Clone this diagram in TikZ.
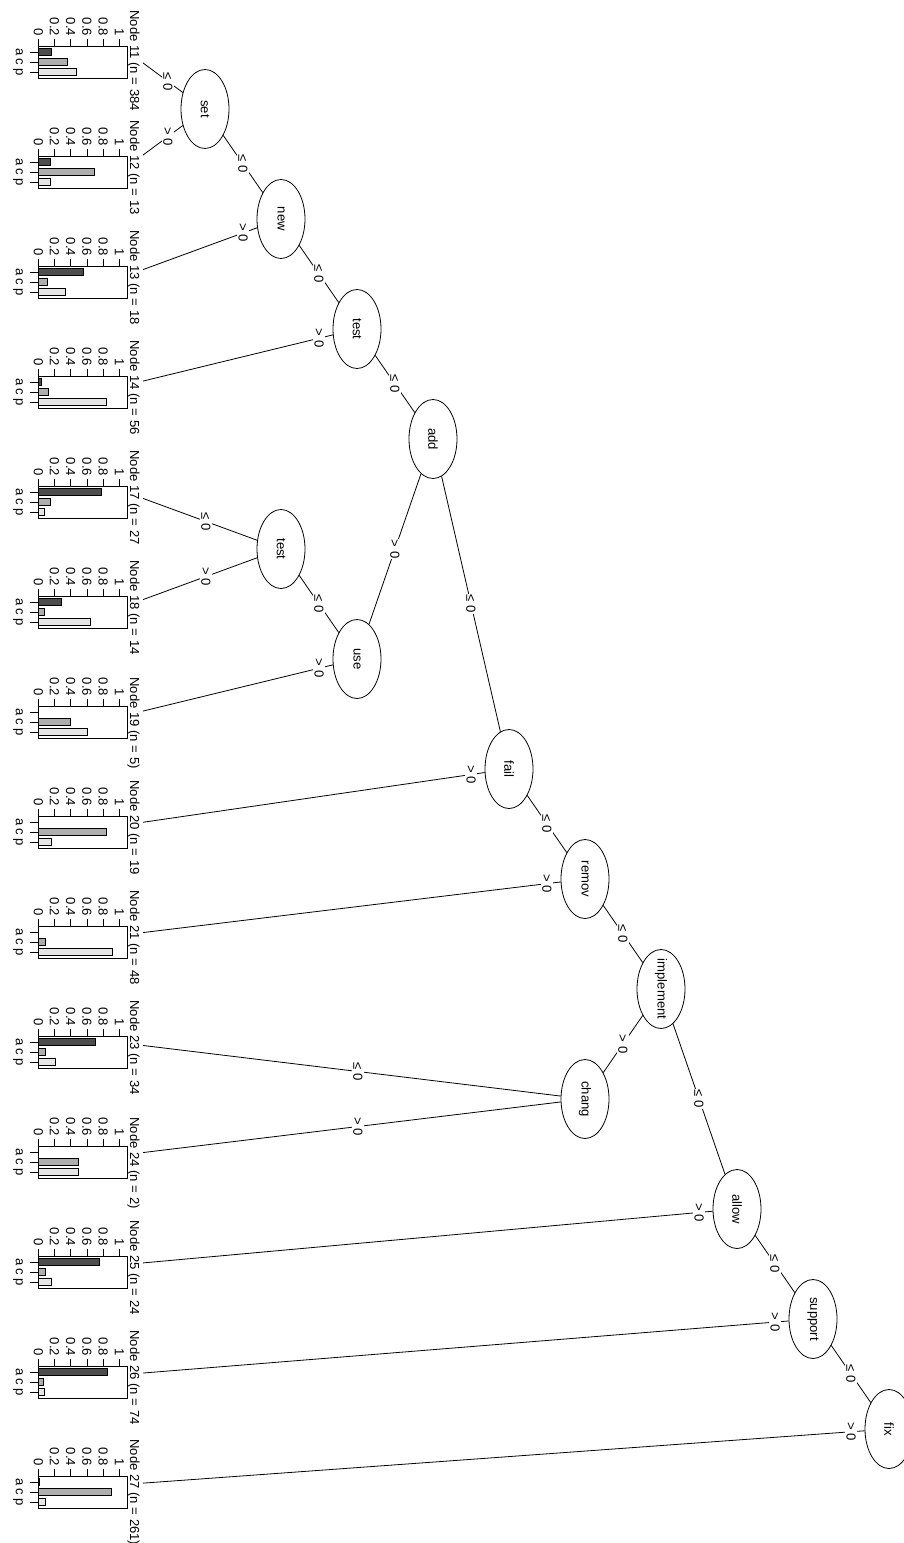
\documentclass[tikz,border=0pt]{standalone}
\usepackage{fontspec}
\setmainfont{Liberation Sans}
\usetikzlibrary{shapes.geometric,calc}

\definecolor{bara}{HTML}{4D4D4D}
\definecolor{barc}{HTML}{AEAEAE}
\definecolor{barp}{HTML}{E6E6E6}

\newcommand{\leafpanel}[7]{%
  \coordinate (#1) at (131,#2-8);
  \node[leaftitle] (#1t) at (130,#2-#4) {#3};
  \filldraw[fill=bara] (38.3,#2-13.75) rectangle ({38.3+81*#5},#2-6.25);
  \filldraw[fill=barc] (38.3,#2-3.75) rectangle ({38.3+81*#6},#2+3.75);
  \filldraw[fill=barp] (38.3,#2+6.25) rectangle ({38.3+81*#7},#2+13.75);
  \draw (38.3,#2-16) rectangle (127,#2+16);
  \foreach \v in {0,0.2,0.4,0.6,0.8,1} {
    \draw ({38.3+81*\v},#2-16) -- ({38.3+81*\v},#2-23);
    \node[ticklabel] at ({38.3+81*\v},#2-25.5) {\v};
  }
  \draw (38.3,#2-10) -- (30,#2-10);
  \draw (38.3,#2) -- (30,#2);
  \draw (38.3,#2+10) -- (30,#2+10);
  \node[catlabel] at (16,#2-10) {a};
  \node[catlabel] at (16,#2) {c};
  \node[catlabel] at (16,#2+10) {p};
}

\begin{document}
\begin{tikzpicture}[x=1pt, y=-1pt, line width=0.8pt,
  font=\fontsize{13.1}{15}\selectfont,
  splitnode/.style={ellipse, draw, fill=white, minimum width=79pt, minimum height=48pt, inner sep=0pt, rotate=-90},
  edgelabel/.style={fill=white, inner sep=1pt, rotate=-90},
  leaftitle/.style={rotate=-90, anchor=base west, inner sep=0pt},
  ticklabel/.style={rotate=-90, anchor=east, inner sep=0pt},
  catlabel/.style={rotate=-90, anchor=base, inner sep=0pt}]
\useasboundingbox (0,0) rectangle (903,1543);

\node[splitnode] (set) at (205,109) {\makebox[0pt]{set}};
\node[splitnode] (new) at (281,219) {\makebox[0pt]{new}};
\node[splitnode] (test) at (357,329) {\makebox[0pt]{test}};
\node[splitnode] (add) at (433,439) {\makebox[0pt]{add}};
\node[splitnode] (testb) at (281,549) {\makebox[0pt]{test}};
\node[splitnode] (use) at (357,659) {\makebox[0pt]{use}};
\node[splitnode] (fail) at (509,769) {\makebox[0pt]{fail}};
\node[splitnode] (remov) at (585,879) {\makebox[0pt]{remov}};
\node[splitnode] (implement) at (661,989) {\makebox[0pt]{implement}};
\node[splitnode] (chang) at (585,1099) {\makebox[0pt]{chang}};
\node[splitnode] (allow) at (737,1209) {\makebox[0pt]{allow}};
\node[splitnode] (support) at (813,1319) {\makebox[0pt]{support}};
\node[splitnode] (fix) at (889,1429) {\makebox[0pt]{fix}};

\leafpanel{n11}{62}{Node 11 (n = 384}{52}{0.165}{0.365}{0.47}
\leafpanel{n12}{172}{Node 12 (n = 13}{52}{0.155}{0.69}{0.155}
\leafpanel{n13}{282}{Node 13 (n = 18}{52}{0.556}{0.111}{0.333}
\leafpanel{n14}{392}{Node 14 (n = 56}{52}{0.036}{0.125}{0.839}
\leafpanel{n17}{502}{Node 17 (n = 27}{52}{0.778}{0.148}{0.074}
\leafpanel{n18}{612}{Node 18 (n = 14}{52}{0.286}{0.071}{0.643}
\leafpanel{n19}{722}{Node 19 (n = 5)}{45}{0}{0.4}{0.6}
\leafpanel{n20}{832}{Node 20 (n = 19}{52}{0}{0.842}{0.158}
\leafpanel{n21}{942}{Node 21 (n = 48}{52}{0}{0.083}{0.917}
\leafpanel{n23}{1052}{Node 23 (n = 34}{52}{0.706}{0.088}{0.206}
\leafpanel{n24}{1162}{Node 24 (n = 2)}{45}{0}{0.5}{0.5}
\leafpanel{n25}{1272}{Node 25 (n = 24}{52}{0.75}{0.083}{0.167}
\leafpanel{n26}{1382}{Node 26 (n = 74}{52}{0.851}{0.068}{0.081}
\leafpanel{n27}{1492}{Node 27 (n = 261)}{53}{0.015}{0.9}{0.085}

\draw (new) -- (set) node[edgelabel] at ($(new.center)!0.5!(set.center)$) {≤ 0};
\draw (test) -- (new) node[edgelabel] at ($(test.center)!0.5!(new.center)$) {≤ 0};
\draw (add) -- (test) node[edgelabel] at ($(add.center)!0.5!(test.center)$) {≤ 0};
\draw (add) -- (use) node[edgelabel] at ($(add.center)!0.5!(use.center)$) {> 0};
\draw (use) -- (testb) node[edgelabel] at ($(use.center)!0.5!(testb.center)$) {≤ 0};
\draw (fail) -- (add) node[edgelabel] at ($(fail.center)!0.5!(add.center)$) {≤ 0};
\draw (remov) -- (fail) node[edgelabel] at ($(remov.center)!0.5!(fail.center)$) {≤ 0};
\draw (implement) -- (remov) node[edgelabel] at ($(implement.center)!0.5!(remov.center)$) {≤ 0};
\draw (implement) -- (chang) node[edgelabel] at ($(implement.center)!0.5!(chang.center)$) {> 0};
\draw (allow) -- (implement) node[edgelabel] at ($(allow.center)!0.5!(implement.center)$) {≤ 0};
\draw (support) -- (allow) node[edgelabel] at ($(support.center)!0.5!(allow.center)$) {≤ 0};
\draw (fix) -- (support) node[edgelabel] at ($(fix.center)!0.5!(support.center)$) {≤ 0};

\begin{scope}
\clip (143,0) rectangle (903,1543);
\draw (set) -- (n11) node[edgelabel] at ($(set.center)!0.5!(n11)$) {≤ 0};
\draw (set) -- (n12) node[edgelabel] at ($(set.center)!0.5!(n12)$) {> 0};
\draw (new) -- (n13) node[edgelabel] at ($(new.center)!0.253!(n13)$) {> 0};
\draw (test) -- (n14) node[edgelabel] at ($(test.center)!0.168!(n14)$) {> 0};
\draw (testb) -- (n17) node[edgelabel] at ($(testb.center)!0.5!(n17)$) {≤ 0};
\draw (testb) -- (n18) node[edgelabel] at ($(testb.center)!0.5!(n18)$) {> 0};
\draw (use) -- (n19) node[edgelabel] at ($(use.center)!0.168!(n19)$) {> 0};
\draw (fail) -- (n20) node[edgelabel] at ($(fail.center)!0.1005!(n20)$) {> 0};
\draw (remov) -- (n21) node[edgelabel] at ($(remov.center)!0.0837!(n21)$) {> 0};
\draw (chang) -- (n23) node[edgelabel] at ($(chang.center)!0.5!(n23)$) {≤ 0};
\draw (chang) -- (n24) node[edgelabel] at ($(chang.center)!0.5!(n24)$) {> 0};
\draw (allow) -- (n25) node[edgelabel] at ($(allow.center)!0.0627!(n25)$) {> 0};
\draw (support) -- (n26) node[edgelabel] at ($(support.center)!0.0557!(n26)$) {> 0};
\draw (fix) -- (n27) node[edgelabel] at ($(fix.center)!0.0501!(n27)$) {> 0};
\end{scope}
\end{tikzpicture}
\end{document}
